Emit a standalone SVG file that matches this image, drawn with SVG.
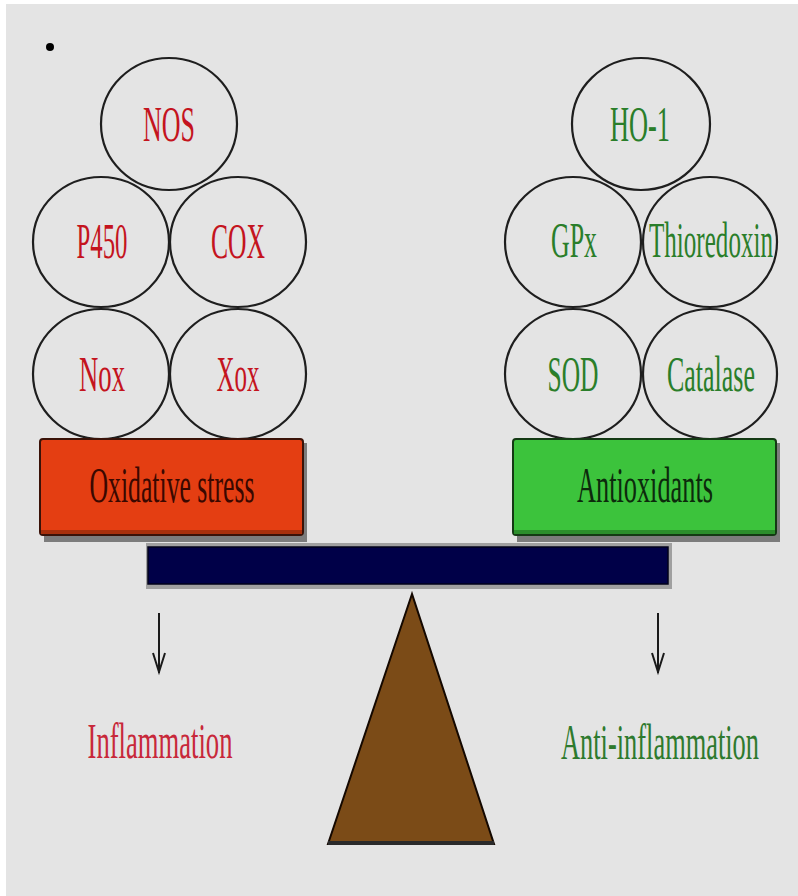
<svg xmlns="http://www.w3.org/2000/svg" width="798" height="896" viewBox="0 0 798 896">
<style>
.c{fill:none;stroke:#1e1e1e;stroke-width:2.2}
.t{font-family:"Liberation Serif","Times New Roman",serif;font-size:50px;text-anchor:middle}
.r{fill:#c4141e}
.g{fill:#2a7e2a}
.arr{fill:none;stroke:#1a1a1a;stroke-width:2}
</style>
<rect x="0" y="0" width="798" height="896" fill="#ffffff"/>
<rect x="6" y="4" width="792" height="892" fill="#e4e4e4"/>
<circle cx="50" cy="47" r="4" fill="#000"/>

<g id="nodes-left">
<g id="NOS"><ellipse class="c" cx="169" cy="124" rx="68" ry="66"/><text class="t r" transform="translate(169,141) scale(0.55,1)" textLength="94.5" lengthAdjust="spacingAndGlyphs">NOS</text></g>
<g id="P450"><ellipse class="c" cx="101" cy="242" rx="68" ry="65"/><text class="t r" transform="translate(102,258) scale(0.55,1)" textLength="92.7" lengthAdjust="spacingAndGlyphs">P450</text></g>
<g id="COX"><ellipse class="c" cx="238" cy="242" rx="68" ry="65"/><text class="t r" transform="translate(238,258) scale(0.55,1)" textLength="98.2" lengthAdjust="spacingAndGlyphs">COX</text></g>
<g id="Nox"><ellipse class="c" cx="101" cy="374" rx="68" ry="65"/><text class="t r" transform="translate(102,391) scale(0.55,1)" textLength="83.6" lengthAdjust="spacingAndGlyphs">Nox</text></g>
<g id="Xox"><ellipse class="c" cx="238" cy="374" rx="68" ry="65"/><text class="t r" transform="translate(238,391) scale(0.55,1)" textLength="78.2" lengthAdjust="spacingAndGlyphs">Xox</text></g>
</g>

<g id="nodes-right">
<g id="HO-1"><ellipse class="c" cx="641" cy="124" rx="69" ry="66"/><text class="t g" transform="translate(640,141) scale(0.55,1)" textLength="109.1" lengthAdjust="spacingAndGlyphs">HO-1</text></g>
<g id="GPx"><ellipse class="c" cx="573" cy="242" rx="68" ry="65"/><text class="t g" transform="translate(574,257) scale(0.55,1)" textLength="83.6" lengthAdjust="spacingAndGlyphs">GPx</text></g>
<g id="Thioredoxin"><ellipse class="c" cx="710" cy="242" rx="67" ry="65"/><text class="t g" transform="translate(711,257) scale(0.55,1)" textLength="225.5" lengthAdjust="spacingAndGlyphs">Thioredoxin</text></g>
<g id="SOD"><ellipse class="c" cx="573" cy="374" rx="68" ry="65"/><text class="t g" transform="translate(573,391) scale(0.55,1)" textLength="92.7" lengthAdjust="spacingAndGlyphs">SOD</text></g>
<g id="Catalase"><ellipse class="c" cx="710" cy="374" rx="67" ry="65"/><text class="t g" transform="translate(711,391) scale(0.55,1)" textLength="160" lengthAdjust="spacingAndGlyphs">Catalase</text></g>
</g>

<g id="oxidative-stress">
<rect x="44" y="443" width="263" height="99" fill="#7c7c7c"/>
<rect x="40" y="439" width="263" height="96" rx="3" fill="#e43e12" stroke="#3a1208" stroke-width="2"/>
<rect x="41" y="530" width="261" height="4" fill="#a8300c"/>
<text class="t" fill="#3a0800" transform="translate(172,502) scale(0.55,1)" textLength="300" lengthAdjust="spacingAndGlyphs">Oxidative stress</text>
</g>

<g id="antioxidants">
<rect x="517" y="443" width="263" height="99" fill="#7c7c7c"/>
<rect x="513" y="439" width="263" height="96" rx="3" fill="#3cc33c" stroke="#143a14" stroke-width="2"/>
<rect x="514" y="530" width="261" height="4" fill="#2c8e2c"/>
<text class="t" fill="#0c2a0c" transform="translate(645,502) scale(0.55,1)" textLength="247.3" lengthAdjust="spacingAndGlyphs">Antioxidants</text>
</g>

<g id="beam">
<rect x="146" y="543" width="526" height="46" fill="#a0a0a0"/>
<rect x="148" y="547" width="520" height="37" fill="#000048" stroke="#00001a" stroke-width="1.5"/>
</g>

<g id="fulcrum">
<polygon points="412,594 328,844 494,844" fill="#7b4b17" stroke="#140800" stroke-width="2"/>
<rect x="328" y="841" width="166" height="4" fill="#2a2a2a"/>
</g>

<g id="connectors">
<path class="arr" d="M159,613 V673 M153,653 L159,672 L165,653"/>
<path class="arr" d="M658,613 V673 M652,653 L658,672 L664,653"/>
</g>

<g id="Inflammation"><text class="t" fill="#c8283a" font-size="52" transform="translate(160,758) scale(0.55,1)" textLength="263.6" lengthAdjust="spacingAndGlyphs">Inflammation</text></g>
<g id="Anti-inflammation"><text class="t" fill="#2e7a2e" font-size="52" transform="translate(660,759) scale(0.55,1)" textLength="360" lengthAdjust="spacingAndGlyphs">Anti-inflammation</text></g>
</svg>
